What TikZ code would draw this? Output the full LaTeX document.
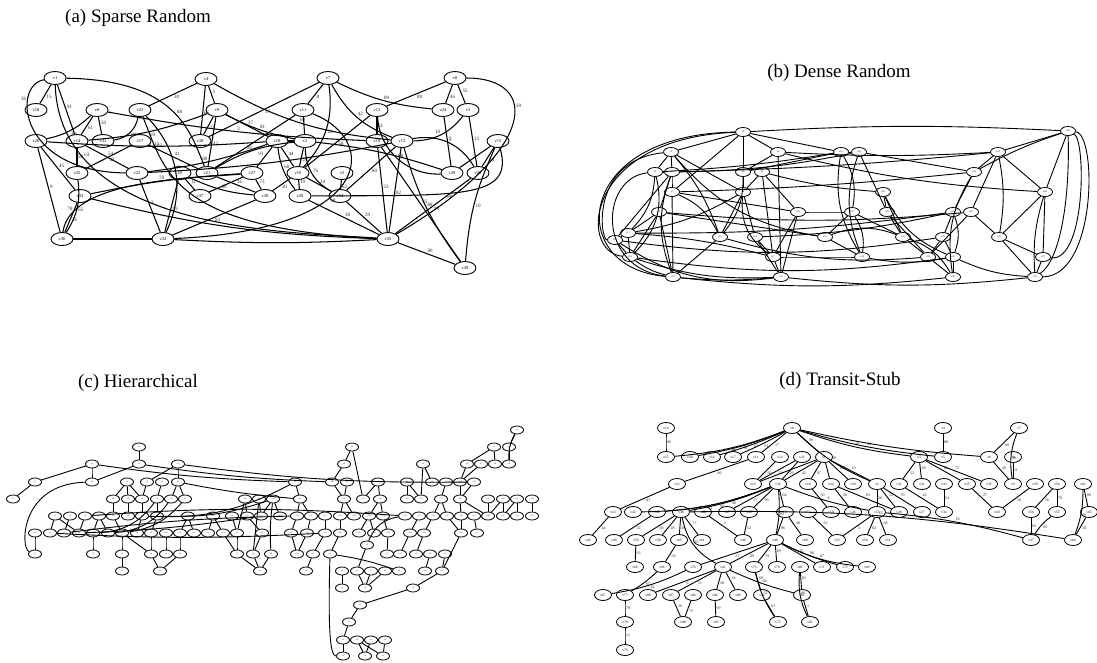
\documentclass[tikz,border=0pt]{standalone}
\usepackage{fontspec}
\setmainfont{Liberation Serif}
\usetikzlibrary{shapes.geometric}
\begin{document}
\begin{tikzpicture}[x=1pt,y=-1pt]
\tikzset{
 ttl/.style={font=\fontsize{19}{22}\selectfont},
 na/.style={ellipse,draw,line width=0.9pt,minimum width=22pt,minimum height=13pt,inner sep=0pt,font=\fontsize{4.5}{5}\selectfont},
 nb/.style={ellipse,draw,line width=0.8pt,minimum width=15pt,minimum height=9pt,inner sep=0pt,font=\fontsize{2.5}{3}\selectfont},
 nc/.style={ellipse,draw,line width=0.8pt,minimum width=13pt,minimum height=8pt,inner sep=0pt,font=\fontsize{2}{2}\selectfont},
 nd/.style={ellipse,draw,line width=0.8pt,minimum width=17pt,minimum height=11pt,inner sep=0pt,font=\fontsize{3.5}{4}\selectfont},
 ea/.style={line width=1.05pt},
 eb/.style={line width=0.9pt},
 lb/.style={font=\fontsize{5}{5}\selectfont,text=black!85,inner sep=0.6pt,auto},
 ld/.style={font=\fontsize{4}{4}\selectfont,text=black!85,inner sep=0.6pt,auto},
}
\useasboundingbox (0,0) rectangle (1097,662);
% titles
\node[ttl] (ta) at (138,18) {(a) Sparse Random};
\node[ttl] (tb) at (839,73) {(b) Dense Random};
\node[ttl] (tc) at (138,383) {(c) Hierarchical};
\node[ttl] (td) at (840,381) {(d) Transit-Stub};

% ---------------- (a) ----------------
\foreach \n/\x/\y in {1/55/78,4/206/79,7/328/78,0/455/78,18/36/110,8/97/110,23/140/110,9/217/110,11/303/110,13/377/110,24/443/110,3/468/110,26/36/141,14/77/141,31/103/141,17/140/141,38/200/141,10/277/141,2/305/141,19/377/141,12/402/141,15/498/141,25/77/173,22/137/173,6/180/173,21/207/173,27/252/173,16/298/173,5/342/173,29/452/173,20/478/173,33/80/196,37/200/196,30/265/196,28/300/196,34/340/196,36/62/239,32/163/239,35/388/239,39/465/268}
 \node[na] (a\n) at (\x,\y) {v\n};
\foreach \ea/\eb/\ebd/\ew in {1/18/0/15,1/14/0/91,4/23/0/30,4/38/0/66,4/9/0/5,4/12/-12/60,8/14/0/61,8/31/0/50,8/26/15/80,8/19/-4/2,23/31/35/80,23/32/35/7,9/38/0/27,9/21/0/42,9/14/8/69,9/10/0/37,9/2/-8/81,14/25/0/58,14/22/0/54,26/10/-4/15,17/25/0/42,17/21/0/41,26/36/0/9,26/33/0/45,25/36/20/65,33/36/0/26,33/27/4/70,6/37/0/11,6/32/0/99,6/30/-10/69,22/32/0/3,21/30/0/16,27/37/0/{},27/30/0/73,30/32/0/83,36/32/0/{},32/35/-3/{},33/35/-6/{},22/12/-4/{},21/2/12/28,22/10/-6/80,27/10/0/93,7/11/0/8,7/24/-10/89,7/12/-20/42,7/38/0/37,7/16/25/20,0/13/0/89,0/24/0/46,0/3/0/55,11/21/0/{},11/2/0/{},13/19/0/51,13/16/0/58,13/29/-45/68,19/35/0/23,19/39/0/35,12/35/0/82,12/34/0/80,12/20/35/3,12/3/-25/10,24/29/0/7,3/20/0/13,15/29/0/{},15/20/0/34,15/39/-10/10,16/28/0/10,16/34/0/34,10/16/0/44,5/34/0/62,2/16/0/29,2/29/6/{},2/10/0/{},34/35/0/29,28/35/0/38,35/39/0/89,2/34/-30/76,20/35/0/99,12/39/-10/88,16/30/0/81,10/28/-15/60}
 \draw[ea] (a\ea) to[bend left=\ebd] node[lb]{\ew} (a\eb);
\draw[ea] (a1) .. controls (175,80) and (190,130) .. node[lb,pos=.55]{88} (a21);
\draw[ea] (a1) .. controls (12,85) and (18,172) .. node[lb,swap,pos=.3]{36} (a22);
\draw[ea] (a1) .. controls (60,235) and (300,232) .. node[lb,pos=.2]{63} (a35);
\draw[ea] (a0) .. controls (540,78) and (540,150) .. node[lb,pos=.4]{59} (a35);
\draw[ea] (a23) .. controls (165,170) and (170,228) .. node[lb,pos=.2]{17} (a35);
\draw[ea] (a11) .. controls (380,140) and (375,230) .. node[lb,pos=.6]{38} (a32);
\draw[ea] (a36) .. controls (70,178) and (200,178) .. node[lb,pos=.15]{78} (a27);
\draw[ea] (a15) .. controls (515,200) and (460,195) .. node[lb,pos=.6]{80} (a28);

% ---------------- (b) ----------------
\foreach \n/\x/\y in {0/743/132,1/671/152,2/778/152,3/655/172,4/672/172,5/743/172,6/762/172,7/672/192,8/743/192,9/659/212,10/798/212,11/628/233,12/615/240,13/720/237,14/755/237,15/825/237,16/630/257,17/773/257,18/673/277,19/781/277,20/1068/131,21/841/152,22/859/152,23/998/152,24/974/172,25/883/192,26/1045/192,27/852/212,28/887/212,29/953/212,30/971/212,31/903/237,32/943/237,33/999/237,34/862/257,35/928/257,36/953/257,37/1043/257,38/953/277,39/1035/277}
 \node[nb] (b\n) at (\x,\y) {v\n};
\foreach \ea/\eb/\ebd in {0/1/0,0/2/0,0/5/0,0/7/0,0/20/3,0/21/0,2/5/0,2/23/-3,2/26/-5,2/19/0,1/4/0,1/8/0,1/15/-20,3/11/20,3/16/30,4/7/0,4/9/0,4/12/0,4/18/-20,4/22/-5,5/8/0,5/13/20,5/21/0,6/8/0,6/10/0,6/17/0,6/25/-5,7/18/0,7/13/20,7/10/0,8/13/0,8/14/0,8/17/-30,8/11/10,9/11/0,9/16/0,9/18/0,9/15/0,10/17/0,10/19/0,10/27/0,11/16/0,11/12/0,12/16/0,12/19/-20,13/18/0,14/17/0,14/19/0,15/34/0,15/31/20,16/18/-10,17/19/0,18/19/-5,21/27/20,21/34/-20,22/28/0,22/34/-20,22/24/0,23/24/0,23/30/0,23/33/10,23/26/0,24/29/0,24/38/-20,25/28/0,25/31/0,25/36/-20,26/33/0,26/39/-10,26/37/0,27/34/20,27/31/0,28/35/0,28/31/0,29/32/0,29/36/20,30/33/0,30/35/0,31/35/0,31/38/20,32/36/0,32/35/0,33/37/0,33/39/0,34/36/-10,35/38/0,36/38/0,36/39/-10,37/39/0,17/34/0,13/35/-10,15/27/0,14/29/-5,11/17/5,3/21/-3,4/23/-2,7/24/-2,16/19/-10,1/13/10,9/30/-5,12/32/-8,3/4/0,1/3/0,22/21/0,20/23/0,20/26/0,20/24/-5,18/38/-6,16/36/-8,19/39/-6,11/29/-4}
 \draw[eb] (b\ea) to[bend left=\ebd] (b\eb);
\draw[eb] (b0) .. controls (572,134) and (565,268) .. (b18);
\draw[eb] (b0) .. controls (584,138) and (578,252) .. (b16);
\draw[eb] (b1) .. controls (590,160) and (600,240) .. (b12);
\draw[eb] (b3) .. controls (600,178) and (596,268) .. (b18);
\draw[eb] (b20) .. controls (1097,134) and (1097,276) .. (b39);
\draw[eb] (b20) .. controls (1086,140) and (1086,262) .. (b37);
\draw[eb] (b20) .. controls (1070,200) and (1060,260) .. (b39);

% ---------------- (c) ----------------
\foreach \x [count=\i] in {517} \node[nc] (cA\x) at (\x,430) {v\i};
\foreach \x [count=\i] in {139,352,494,509} \node[nc] (cB\x) at (\x,447) {v\i};
\foreach \x [count=\i] in {92,139,178,344,423,467,481,495,509} \node[nc] (cC\x) at (\x,464) {v\i};
\foreach \x [count=\i] in {35,92,127,147,162,178,295,332,347,378,407,432,446,460,474} \node[nc] (cD\x) at (\x,482) {v\i};
\foreach \x [count=\i] in {13,113,128,142,157,171,185,245,259,273,300,344,363,380,407,421,441,460,488,503,517,532} \node[nc] (cE\x) at (\x,499) {v\i};
\foreach \x [count=\i] in {55,70,85,99,113,128,142,157,188,213,232,247,261,280,297,311,325,340,354,369,383,405,419,433,447,461,474,488,503,517,532} \node[nc] (cF\x) at (\x,516) {v\i};
\foreach \x [count=\i] in {35,50,64,79,93,108,122,137,151,166,180,194,208,223,237,262,291,307,325,340,359,374,388,410,424,461,477} \node[nc] (cG\x) at (\x,533) {v\i};
\foreach \x [count=\i] in {367} \node[nc] (cH\x) at (\x,545) {v\i};
\foreach \x [count=\i] in {35,93,122,151,166,180,237,253,271,297,313,330,387,400,416,430,445} \node[nc] (cI\x) at (\x,554) {v\i};
\foreach \x [count=\i] in {122,160,260,306,342,357,371,385,399,425,442} \node[nc] (cJ\x) at (\x,571) {v\i};
\foreach \x [count=\i] in {342,365,413} \node[nc] (cK\x) at (\x,588) {v\i};
\foreach \x [count=\i] in {360} \node[nc] (cL\x) at (\x,605) {v\i};
\foreach \x [count=\i] in {349} \node[nc] (cM\x) at (\x,622) {v\i};
\foreach \x [count=\i] in {343,357,371,385} \node[nc] (cN\x) at (\x,640) {v\i};
\foreach \x [count=\i] in {343,365,383} \node[nc] (cO\x) at (\x,656) {v\i};
\foreach \ea/\eb/\ebd in {A517/B509/0,A517/C509/-15,B494/C467/0,B494/C495/0,B509/C509/0,C467/D460/0,C481/D460/0,B139/C139/0,C139/D92/0,C92/D92/0,C92/D35/0,D35/E13/0,B352/C344/0,B352/E363/0,C344/D332/0,C423/D432/0,C423/E421/0,C178/D178/0,C178/D147/0,D127/E113/0,D127/E128/0,D127/E142/0,D147/E142/0,D162/E157/0,D178/E171/0,D178/E185/0,E113/F113/0,E128/F128/0,E142/F142/0,E157/F157/0,E157/G93/25,E171/G108/25,E185/G122/20,F55/G50/0,F55/G79/0,F70/G64/0,F85/G79/0,F99/G93/0,F99/G108/0,F113/G122/0,F142/G137/0,F157/G151/0,G35/I35/0,G93/I93/0,G122/I122/0,G122/I151/0,G151/I151/0,G166/I166/0,G180/I180/0,I122/J122/0,I151/J160/0,I180/J160/0,F188/G180/0,F188/G194/0,F213/G208/0,F213/G223/0,F232/G237/0,G237/I237/0,I237/J260/0,I253/J260/0,I271/J260/0,G262/I253/0,G223/I237/0,E245/F247/0,E259/F261/0,E273/F261/0,E273/F280/0,E273/I271/-5,F247/G262/0,D295/E300/0,D332/E344/0,D347/E344/0,D378/E363/0,D378/E380/0,D407/E407/0,D407/E421/0,D446/E441/0,D460/E460/0,D474/E460/0,E441/F433/0,E441/F447/0,E460/F461/0,E460/F488/0,E488/F488/0,E503/F488/0,E503/F503/0,E517/F517/0,E532/F532/0,E517/F503/0,E344/F340/0,E344/F354/0,E380/F369/0,E380/F383/0,E300/F297/0,E300/F311/0,F297/G291/0,F311/G307/0,F325/G325/0,F340/G340/0,F369/G359/0,F369/G374/0,F383/G388/0,F419/G410/0,F433/G424/0,F447/G461/0,F461/G461/0,F474/G477/0,G291/I297/0,G307/I297/0,G325/I313/0,G340/I330/0,G388/I387/0,G410/I400/0,G424/I416/0,G461/J442/0,I430/J425/0,I445/J442/0,F405/H367/-30,H367/J357/0,I330/J399/5,J342/K342/0,J357/K365/0,J371/K365/0,J385/K365/0,J442/K413/0,K413/L360/0,L360/M349/0,M349/N343/0,N343/O343/0,N357/O365/0,N371/O365/0,N357/O383/0,N385/O383/0,I313/J306/0,C92/D295/-3,C139/D332/-3,C178/D474/-4,D178/E300/-3,F85/F405/4,G79/F261/-3,G64/F297/3,G50/G325/-3,F142/D295/-15,F157/E273/-10,E259/I253/0,E245/G237/0}
 \draw[eb] (c\ea) to[bend left=\ebd] (c\eb);
\draw[eb] (cD92) .. controls (20,484) and (20,548) .. (cI35);
\draw[eb] (cI330) .. controls (328,630) and (330,656) .. (cO343);

% ---------------- (d) ----------------
\foreach \n/\x/\y in {0/792/428,14/666/428,4/943/428,7/1019/428,15/666/457,30/690/457,16/712/457,17/733/457,11/756/457,22/780/457,21/802/457,1/824/457,3/919/457,5/943/457,8/989/457,6/1013/457,12/677/484,23/753/484,36/778/484,18/808/484,24/831/484,20/853/484,2/877/484,32/899/484,31/922/484,33/944/484,25/967/484,35/989/484,9/1013/484,29/1035/484,54/1057/484,62/1083/484,13/613/512,42/633/512,48/657/512,38/681/512,44/703/512,47/727/512,45/749/512,39/785/512,52/808/512,19/831/512,26/853/512,57/877/512,28/899/512,27/922/512,34/944/512,10/997/512,56/1031/512,55/1057/512,63/1089/512,43/588/540,49/614/540,59/636/540,58/658/540,65/679/540,61/702/540,46/743/540,40/775/540,68/805/540,53/837/540,50/865/540,51/888/540,37/1031/540,64/1073/540,60/635/567,66/662/567,76/693/567,41/723/567,75/754/567,70/777/567,81/800/567,71/822/567,72/845/567,69/867/567,67/603/595,77/625/595,80/648/595,87/671/595,86/693/595,84/715/595,89/738/595,74/762/595,82/802/595,78/625/622,88/683/622,85/716/622,73/778/622,83/810/622,79/625/650}
 \node[nd] (d\n) at (\x,\y) {v\n};
\foreach \ea/\eb/\ebd/\ew in {14/15/0/86,0/15/8/88,0/30/6/78,0/16/4/57,0/17/3/53,0/11/0/17,0/1/0/89,0/2/-10/99,0/3/-6/10,0/5/-5/21,0/8/-4/{},11/12/0/86,12/13/0/43,22/23/0/60,21/23/0/55,1/23/0/29,1/36/0/42,1/18/0/87,21/36/0/{},1/24/0/{},1/20/0/100,1/2/0/19,4/5/0/88,3/32/0/52,3/31/0/38,3/25/0/86,3/35/0/72,7/8/0/60,7/9/-15/50,6/9/0/11,8/9/0/26,36/42/10/91,36/48/8/92,36/38/6/40,36/47/0/17,36/45/0/90,36/40/8/93,36/39/0/64,36/57/-5/8,13/43/0/44,48/49/0/32,38/59/0/68,38/58/0/28,38/65/0/38,38/61/0/77,38/41/-25/33,44/46/0/2,45/46/0/52,59/60/0/63,65/66/0/54,76/67/8/42,66/77/6/87,77/78/0/79,78/79/0/77,39/40/0/96,39/68/0/48,40/76/0/23,40/41/0/89,40/75/0/91,40/70/0/69,40/71/0/35,40/72/-5/90,40/69/-10/87,41/80/0/6,41/87/0/51,41/84/0/28,41/89/0/34,41/82/-5/68,87/88/0/26,86/88/0/73,84/85/0/99,75/74/0/68,75/73/-10/52,74/73/0/62,81/82/0/82,81/83/-15/86,82/83/0/1,18/19/0/50,24/26/0/20,24/28/0/83,2/57/0/20,2/28/0/52,2/27/0/70,32/34/0/42,33/34/0/54,25/10/0/27,29/10/0/58,54/56/0/56,54/55/0/70,56/37/0/92,55/37/-10/69,62/64/10/66,62/63/0/89,63/64/0/18,57/53/0/3,57/50/0/82,57/51/0/68,52/53/0/63,57/37/5/65,38/64/5/63}
 \draw[eb] (d\ea) to[bend left=\ebd] node[ld]{\ew} (d\eb);
\end{tikzpicture}
\end{document}
